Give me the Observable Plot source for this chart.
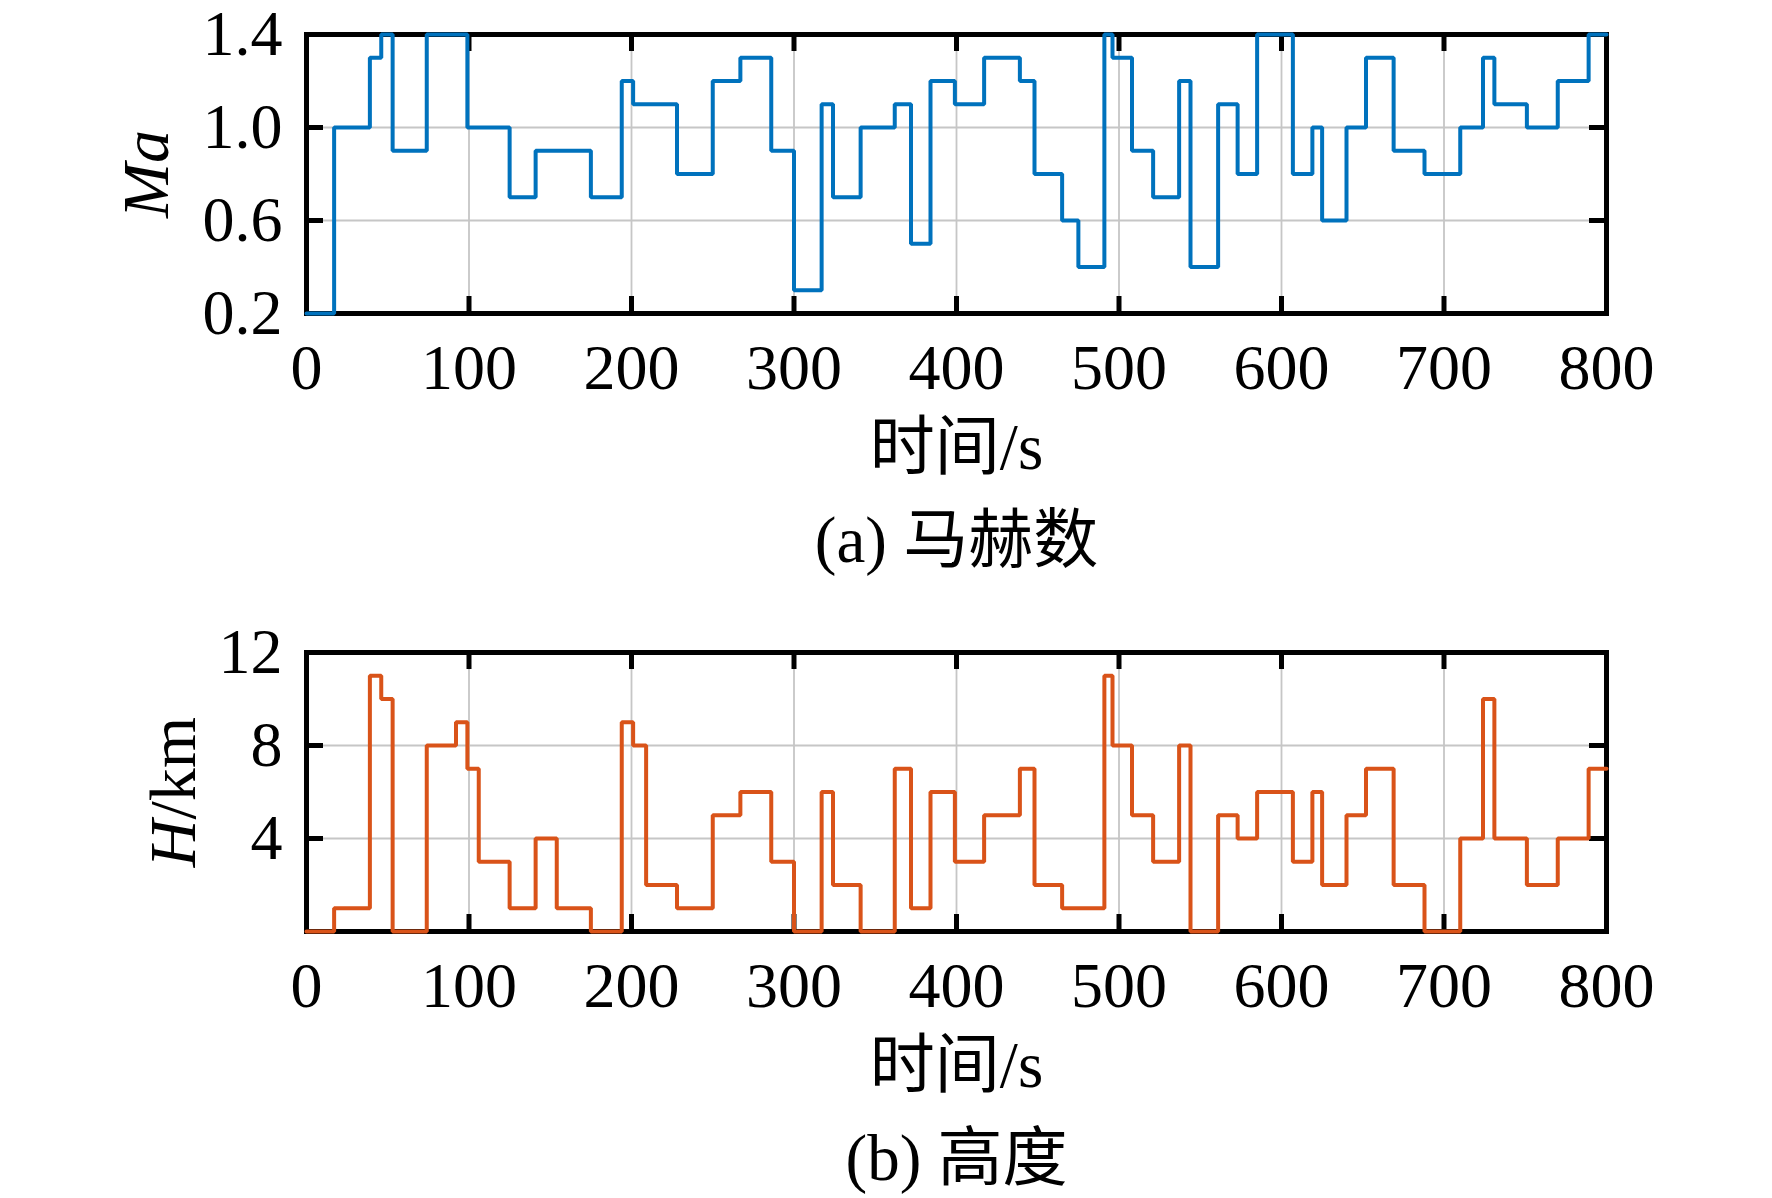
<!DOCTYPE html>
<html><head><meta charset="utf-8">
<script src="https://cdn.jsdelivr.net/npm/d3@7"></script>
<script src="https://cdn.jsdelivr.net/npm/@observablehq/plot@0.6"></script>
<style>
body{margin:0;background:#fff}
#chart{width:1772px}
#chart svg{display:block}
</style>
</head><body><div id="chart"></div>
<script>
// step start times (s) and values
const maTimes = [0,17,39,46,53,74,99,125,141,175,194,201,228,250,267,286,300,317,324,341,362,372,384,399,417,439,448,465,475,491,496,508,521,537,544,561,573,585,607,619,625,640,652,669,688,710,724,731,751,770,789];
const maValues = [0.2,1.0,1.3,1.4,0.9,1.4,1.0,0.7,0.9,0.7,1.2,1.1,0.8,1.2,1.3,0.9,0.3,1.1,0.7,1.0,1.1,0.5,1.2,1.1,1.3,1.2,0.8,0.6,0.4,1.4,1.3,0.9,0.7,1.2,0.4,1.1,0.8,1.4,0.8,1.0,0.6,1.0,1.3,0.9,0.8,1.0,1.3,1.1,1.0,1.2,1.4];
const hTimes = [0,17,39,46,53,74,92,99,106,125,141,154,175,194,201,209,228,250,267,286,300,317,324,341,362,372,384,399,417,439,448,465,491,496,508,521,537,544,561,573,585,607,619,625,640,652,669,688,710,724,731,751,770,789];
const hValues = [0,1,11,10,0,8,9,7,3,1,4,1,0,9,8,2,1,5,6,3,0,6,2,0,7,1,6,3,5,7,2,1,11,8,5,3,8,0,5,4,6,3,6,2,5,7,2,0,4,10,4,2,4,7];
const endTime = 800;
const xTicks = [0,100,200,300,400,500,600,700,800];
const maTicks = [0.2,0.6,1.0,1.4];
const hTicks = [4,8,12];
const maDomain = [0.2,1.4];
const hDomain = [0,12];
const xLabel = "时间/s";
const captionA = "(a) 马赫数";
const captionB = "(b) 高度";

function steps(times, values) {
  const d = times.map((t, i) => ({t, v: values[i]}));
  d.push({t: endTime, v: values[values.length - 1]});
  return d;
}

const W = 1772, ML = 306, MR = 166;
const FONT = "'Liberation Serif', 'Noto Sans CJK SC', serif";

function panel({data, color, yDomain, yTicks, yFormat, yLabel, yLabelDx, caption, height, marginTop, marginBottom}) {
  const innerH = height - marginTop - marginBottom;
  const innerW = W - ML - MR;
  const tl = 17;
  const svg = Plot.plot({
    width: W, height, marginTop, marginBottom, marginLeft: ML, marginRight: MR,
    style: {fontFamily: FONT, fontSize: "64px", background: "white", color: "black", overflow: "visible"},
    x: {domain: [0, endTime]},
    y: {domain: yDomain},
    marks: [
      Plot.gridX(xTicks.slice(1, -1), {stroke: "#c6c6c6", strokeOpacity: 1, strokeWidth: 1.8}),
      Plot.gridY(yTicks.filter(v => v > yDomain[0] && v < yDomain[1]), {stroke: "#c6c6c6", strokeOpacity: 1, strokeWidth: 1.8}),
      Plot.frame({stroke: "black", strokeWidth: 5}),
      Plot.tickX(xTicks, {x: d => d, insetTop: innerH - tl, stroke: "black", strokeWidth: 5}),
      Plot.tickX(xTicks, {x: d => d, insetBottom: innerH - tl, stroke: "black", strokeWidth: 5}),
      Plot.tickY(yTicks, {y: d => d, insetLeft: innerW - tl, stroke: "black", strokeWidth: 5}),
      Plot.tickY(yTicks, {y: d => d, insetRight: innerW - tl, stroke: "black", strokeWidth: 5}),
      Plot.line(data, {x: "t", y: "v", curve: "step-after", stroke: color, strokeWidth: 4, strokeLinejoin: "miter"}),
      Plot.axisX(xTicks, {tickSize: 0, tickPadding: 30, label: null, fontSize: 64}),
      Plot.axisY(yTicks, {tickSize: 0, tickPadding: 24, label: null, tickFormat: yFormat, fontSize: 64}),
      Plot.text([xLabel], {frameAnchor: "bottom", dy: 155, fontSize: 65}),
      Plot.text([caption], {frameAnchor: "bottom", dy: 248, fontSize: 65}),
      Plot.text([yLabel], {frameAnchor: "left", textAnchor: "middle", dx: yLabelDx, rotate: -90, fontSize: 66})
    ]
  });
  return svg;
}

const p1 = panel({
  data: steps(maTimes, maValues), color: "#0072BD",
  yDomain: maDomain, yTicks: maTicks, yFormat: d3.format(".1f"),
  yLabel: "Ma", yLabelDx: -160, caption: captionA, height: 600, marginTop: 34, marginBottom: 287
});
const p2 = panel({
  data: steps(hTimes, hValues), color: "#D95319",
  yDomain: hDomain, yTicks: hTicks, yFormat: d => String(d),
  yLabel: "H/km", yLabelDx: -133, caption: captionB, height: 598, marginTop: 52, marginBottom: 267
});

// italic variable names in y labels
d3.select(p1).selectAll("text").filter(function() { return this.textContent === "Ma"; })
  .style("font-style", "italic");
d3.select(p2).selectAll("text").filter(function() { return this.textContent === "H/km"; })
  .each(function() {
    const t = d3.select(this);
    t.text(null);
    t.append("tspan").style("font-style", "italic").text("H");
    t.append("tspan").text("/km");
  });

document.getElementById("chart").append(p1, p2);
</script>
</body></html>
